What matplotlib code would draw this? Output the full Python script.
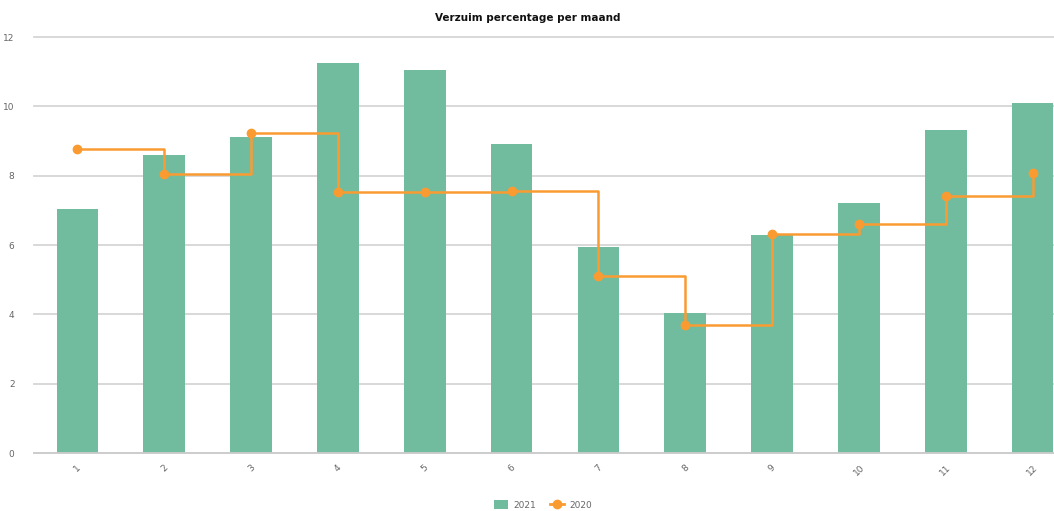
import numpy as np
import matplotlib
matplotlib.use('Agg')
import matplotlib.pyplot as plt
from matplotlib.lines import Line2D
from matplotlib.patches import Patch

# Data
maanden = ['1', '2', '3', '4', '5', '6', '7', '8', '9', '10', '11', '12']
verzuim_2021 = [7.04, 8.6, 9.11, 11.25, 11.05, 8.91, 5.94, 4.04, 6.29, 7.21, 9.32, 10.1]
verzuim_2020 = [8.77, 8.05, 9.23, 7.53, 7.53, 7.56, 5.1, 3.69, 6.32, 6.6, 7.41, 8.08]
y_ticks = [0, 2, 4, 6, 8, 10, 12]

groen = '#71bc9e'
oranje = '#fa9b32'
grijs = '#666666'

fig = plt.figure(figsize=(10.54, 5.11), dpi=100)
W, H = 1054, 511
left, right = 34, 1076
bottom, top = 453, 37
ax = fig.add_axes([left / W, (H - bottom) / H, (right - left) / W, (bottom - top) / H])

x = np.arange(len(maanden))
ax.bar(x, verzuim_2021, width=0.48, color=groen, zorder=2, label='2021')
ax.plot(x, verzuim_2020, drawstyle='steps-post', color=oranje, lw=1.8, zorder=3)
ax.plot(x, verzuim_2020, 'o', color=oranje, ms=6, zorder=4)

ax.set_xlim(-0.5, len(maanden) - 0.5)
ax.set_ylim(0, 12)
ax.set_yticks(y_ticks)
ax.set_xticks(x)
ax.set_xticklabels(maanden, rotation=45, ha='center', va='top')

ax.grid(axis='y', color='#d6d6d6', lw=1.3, zorder=0)
for gl in ax.get_ygridlines():
    gl.set_clip_on(False)
for s in ['top', 'right', 'left']:
    ax.spines[s].set_visible(False)
ax.spines['bottom'].set_color('#cccccc')
ax.spines['bottom'].set_linewidth(1.3)
ax.tick_params(axis='y', length=0, pad=14, labelsize=6.5, labelcolor=grijs)
ax.tick_params(axis='x', length=0, pad=7, labelsize=6.5, labelcolor=grijs)

fig.text(528 / W, 1 - 18 / H, 'Verzuim percentage per maand', ha='center', va='center',
         fontsize=7.5, fontweight='bold', color='#111111')

handles = [Patch(facecolor=groen, edgecolor='none'),
           Line2D([0], [0], color=oranje, lw=2, marker='o', ms=6)]
fig.legend(handles, ['2021', '2020'], loc='center', bbox_to_anchor=(543 / W, 1 - 505 / H),
           ncol=2, frameon=False, fontsize=6.5, labelcolor=grijs, handlelength=1.6,
           handleheight=1.0, columnspacing=1.5, handletextpad=0.6)

fig.savefig('out.png', dpi=100)
